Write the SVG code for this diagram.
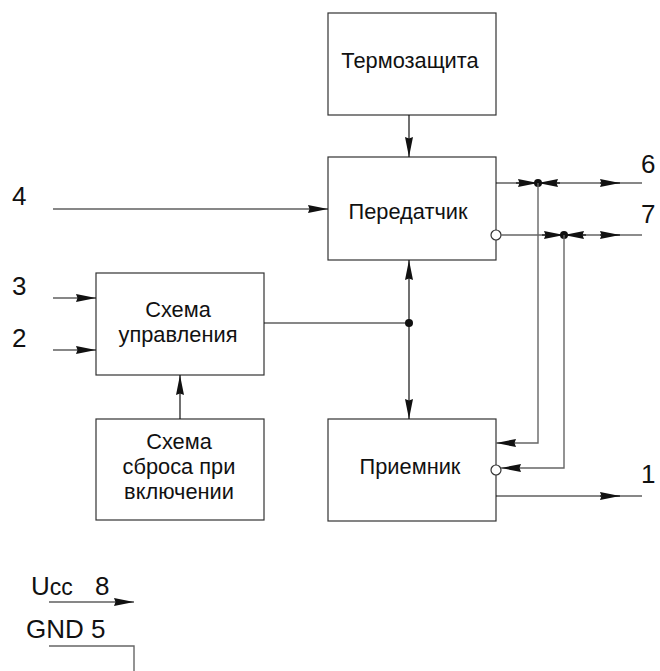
<svg xmlns="http://www.w3.org/2000/svg" width="660" height="671" viewBox="0 0 660 671">
<style>
.box{fill:#fff;stroke:#333;stroke-width:1.2}
.t{font-family:"Liberation Sans",Arial,sans-serif;font-size:21.8px;fill:#111;text-anchor:middle}
.n{font-family:"Liberation Sans",Arial,sans-serif;font-size:26px;fill:#111}
.ln{fill:none;stroke:#111;stroke-width:1.2}
.lg{fill:none;stroke:#666;stroke-width:1.4}
.dot{fill:#111}
</style>
<defs>
<marker id="ah" markerUnits="userSpaceOnUse" markerWidth="22" markerHeight="10" refX="20" refY="4.5" orient="auto">
<polygon points="0,0.5 20,4.5 0,8.5 1.5,4.5" fill="#111"/>
</marker>
</defs>
<g id="thermo"><rect class="box" x="328" y="13" width="168" height="102"/><text class="t" x="410" y="68">Термозащита</text></g>
<g id="transmitter"><rect class="box" x="328" y="157" width="168" height="103"/><text class="t" x="408" y="219">Передатчик</text><circle cx="496" cy="235" r="5" fill="#fff" stroke="#333" stroke-width="1.2"/></g>
<g id="control"><rect class="box" x="96" y="273" width="168" height="102"/><text class="t" x="178" y="317">Схема</text><text class="t" x="178" y="342">управления</text></g>
<g id="reset"><rect class="box" x="96" y="419" width="168" height="101"/><text class="t" x="179" y="449">Схема</text><text class="t" x="179" y="474">сброса при</text><text class="t" x="179" y="499">включении</text></g>
<g id="receiver"><rect class="box" x="328" y="419" width="168" height="102"/><text class="t" x="410" y="474">Приемник</text><circle cx="496" cy="470" r="5" fill="#fff" stroke="#333" stroke-width="1.2"/></g>
<g id="labels">
<text class="n" x="12" y="205">4</text>
<text class="n" x="12" y="295">3</text>
<text class="n" x="12" y="347">2</text>
<text class="n" x="641" y="173">6</text>
<text class="n" x="641" y="223">7</text>
<text class="n" x="641" y="483">1</text>
<text class="n" x="31" y="595" font-size="28px">U<tspan font-size="23px">cc</tspan><tspan x="95">8</tspan></text>
<text class="n" x="26" y="638" font-size="28px">GND 5</text>
</g>
<g id="connectors">
<line class="ln" x1="409" y1="115" x2="409" y2="157" marker-end="url(#ah)"/>
<line class="ln" x1="53" y1="209" x2="328" y2="209" marker-end="url(#ah)"/>
<line class="ln" x1="53" y1="298" x2="96" y2="298" marker-end="url(#ah)"/>
<line class="ln" x1="53" y1="350" x2="96" y2="350" marker-end="url(#ah)"/>
<line class="ln" x1="180" y1="419" x2="180" y2="375" marker-end="url(#ah)"/>
<line class="ln" x1="264" y1="323" x2="409" y2="323"/>
<line class="ln" x1="409" y1="323" x2="409" y2="260" marker-end="url(#ah)"/>
<line class="ln" x1="409" y1="323" x2="409" y2="419" marker-end="url(#ah)"/>
<circle class="dot" cx="409" cy="323" r="4"/>
<line class="ln" x1="496" y1="183" x2="642" y2="183"/>
<line class="ln" x1="516" y1="183" x2="538" y2="183" marker-end="url(#ah)"/>
<line class="ln" x1="560" y1="183" x2="538" y2="183" marker-end="url(#ah)"/>
<line class="ln" x1="600" y1="183" x2="620" y2="183" marker-end="url(#ah)"/>
<circle class="dot" cx="538" cy="183" r="4"/>
<line class="lg" x1="501" y1="235" x2="642" y2="235"/>
<line class="ln" x1="542" y1="235" x2="564" y2="235" marker-end="url(#ah)"/>
<line class="ln" x1="586" y1="235" x2="564" y2="235" marker-end="url(#ah)"/>
<line class="ln" x1="600" y1="235" x2="620" y2="235" marker-end="url(#ah)"/>
<circle class="dot" cx="564" cy="235" r="4"/>
<polyline class="lg" points="538,183 538,443 496,443" marker-end="url(#ah)"/>
<polyline class="lg" points="564,235 564,468 501,468" marker-end="url(#ah)"/>
<line class="ln" x1="496" y1="496" x2="642" y2="496"/>
<line class="ln" x1="600" y1="496" x2="620" y2="496" marker-end="url(#ah)"/>
<line class="ln" x1="49" y1="602" x2="134" y2="602" marker-end="url(#ah)"/>
<polyline class="lg" points="49,646 134,646 134,671"/>
</g>
</svg>
